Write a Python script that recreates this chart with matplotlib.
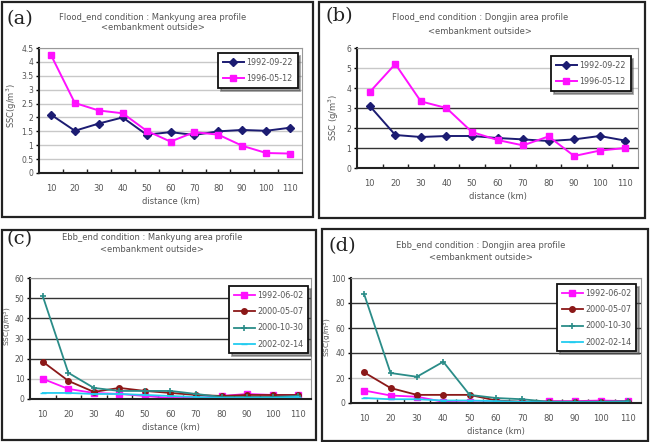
import matplotlib
matplotlib.use("Agg")
import matplotlib.pyplot as plt
from matplotlib.patches import Rectangle

W, H = 650, 442
distance = [10, 20, 30, 40, 50, 60, 70, 80, 90, 100, 110]

# (a) Flood_end, Mankyung
a_labels = ["1992-09-22", "1996-05-12"]
a_1992 = [2.1, 1.52, 1.78, 2.0, 1.38, 1.47, 1.37, 1.5, 1.55, 1.52, 1.63]
a_1996 = [4.25, 2.52, 2.25, 2.15, 1.52, 1.13, 1.47, 1.38, 0.98, 0.72, 0.7]

# (b) Flood_end, Dongjin
b_labels = ["1992-09-22", "1996-05-12"]
b_1992 = [3.1, 1.65, 1.55, 1.6, 1.6, 1.5, 1.43, 1.35, 1.43, 1.6, 1.37]
b_1996 = [3.8, 5.2, 3.33, 3.0, 1.8, 1.4, 1.13, 1.58, 0.6, 0.87, 1.0]

# (c) Ebb_end, Mankyung
c_labels = ["1992-06-02", "2000-05-07", "2000-10-30", "2002-02-14"]
c_19920602 = [10, 5, 3, 2.5, 1.5, 0.5, 0.5, 1.5, 2.5, 2, 2]
c_20000507 = [18.5, 9, 3.5, 5.5, 4, 3, 2, 1.5, 2, 2, 2]
c_20001030 = [51, 13, 5.5, 4, 4, 4, 2.5, 1, 1, 1, 1.5]
c_20020214 = [3, 3, 2.5, 2.5, 2, 1.5, 1, 0.5, 0.5, 0.5, 1]

# (d) Ebb_end, Dongjin
d_labels = ["1992-06-02", "2000-05-07", "2000-10-30", "2002-02-14"]
d_19920602 = [10, 6, 5, 1, 0.5, 0.5, 0.5, 1.5, 1.5, 2, 1.5]
d_20000507 = [24.5, 12, 6.5, 6.5, 6.5, 2, 1, 1, 1, 1, 1]
d_20001030 = [87, 24, 21, 33, 6.5, 4, 3, 1, 1, 1, 1.5]
d_20020214 = [4, 3, 3, 2, 2, 1.5, 1, 0.5, 0.5, 0.5, 0.5]

NAVY = "#1c1c72"
MAG = "#ff10ff"
DRED = "#8b1818"
TEAL = "#2a8c88"
CYAN = "#22ccf0"
TXT = "#555555"

fig = plt.figure(figsize=(W / 100, H / 100), dpi=100)
fig.patch.set_facecolor("white")


def fx(x):
    return x / W


def fy(y):
    return 1 - y / H


def box(x0, y0, x1, y1):
    r = Rectangle((fx(x0), fy(y1)), fx(x1 - x0), (y1 - y0) / H,
                  transform=fig.transFigure, fill=False, edgecolor="#222222",
                  linewidth=1.6)
    fig.add_artist(r)


def make_ax(x0, y0, x1, y1, ymax, ystep, ylabel, gridcolors, yfmt, lx, ly,
            lfs=6):
    ax = fig.add_axes([fx(x0), fy(y1), fx(x1 - x0), (y1 - y0) / H])
    ax.set_xlim(5, 115)
    ax.set_ylim(0, ymax)
    yt = [i * ystep for i in range(int(round(ymax / ystep)) + 1)]
    ax.set_yticks(yt)
    ax.set_yticklabels([yfmt(v) for v in yt])
    for v, c in zip(yt[1:], gridcolors):
        ax.axhline(v, color=c, linewidth=1.0, zorder=0.5)
    ax.set_xticks(distance)
    ax.set_xticklabels([str(d) for d in distance])
    ax.set_xticks([15 + 10 * i for i in range(10)], minor=True)
    ax.tick_params(axis="x", which="major", length=0, pad=8, labelsize=6,
                   labelcolor=TXT)
    ax.tick_params(axis="x", which="minor", length=3, direction="in",
                   width=1.0, color="#222222")
    ax.tick_params(axis="y", length=2.5, direction="out", width=1.0,
                   labelsize=5.5, labelcolor=TXT, pad=1.5)
    for s in ["left", "bottom"]:
        ax.spines[s].set_linewidth(1.5)
        ax.spines[s].set_color("#222222")
    for s in ["top", "right"]:
        ax.spines[s].set_linewidth(0.8)
        ax.spines[s].set_color("#999999")
    ax.set_xlabel("distance (km)", fontsize=6, color=TXT, labelpad=3)
    ax.set_ylabel(ylabel, fontsize=lfs, color=TXT, va="center")
    ax.yaxis.set_label_coords(fx(lx), fy(ly), transform=fig.transFigure)
    return ax


def legend(ax, x0, y0):
    lg = ax.legend(loc="upper left", bbox_to_anchor=(fx(x0), fy(y0)),
                   bbox_transform=fig.transFigure, fontsize=5.8,
                   frameon=True, fancybox=False, shadow=True,
                   borderpad=0.6, labelspacing=0.9, handlelength=2.6,
                   handletextpad=0.3, borderaxespad=0)
    lg.get_frame().set_edgecolor("#111111")
    lg.get_frame().set_linewidth(1.3)
    for t in lg.get_texts():
        t.set_color(TXT)


def titles(cx, y1, y2, line1, lab, lx, ly):
    fig.text(fx(cx), fy(y1), line1, ha="center", va="center", fontsize=6,
             color=TXT)
    fig.text(fx(cx), fy(y2), "<embankment outside>", ha="center",
             va="center", fontsize=6, color=TXT)
    fig.text(fx(lx), fy(ly), lab, ha="center", va="center", fontsize=14,
             family="DejaVu Serif", color="#222222")


fmt_a = lambda v: ("%g" % v)
LG = "#c8c8c8"
DK = "#333333"

# Panel boxes
box(2, 2, 313, 217)
box(319, 2, 645, 218)
box(2, 230, 316, 440)
box(322, 229, 648, 441)

# (a)
ax = make_ax(39, 48, 302, 173, 4.5, 0.5, "SSC(g/m$^3$)", [LG] * 9, fmt_a,
             12, 106)
ax.plot(distance, a_1992, color=NAVY, marker="D", markersize=4, lw=1.4,
        label=a_labels[0])
ax.plot(distance, a_1996, color=MAG, marker="s", markersize=4, lw=1.4,
        label=a_labels[1])
legend(ax, 218, 53)
titles(153, 17, 28, "Flood_end condition : Mankyung area profile", "(a)",
       20, 19)

# (b)
ax = make_ax(357, 48, 638, 168, 6, 1, "SSC (g/m$^3$)",
             [DK, DK, DK, LG, LG, LG], fmt_a, 334, 117)
ax.plot(distance, b_1992, color=NAVY, marker="D", markersize=4, lw=1.4,
        label=b_labels[0])
ax.plot(distance, b_1996, color=MAG, marker="s", markersize=4, lw=1.4,
        label=b_labels[1])
legend(ax, 551, 56)
titles(480, 17, 31, "Flood_end condition : Dongjin area profile", "(b)",
       339, 16)

# (c)
ax = make_ax(30, 278, 311, 399, 60, 10, "SSC(g/m$^3$)",
             [LG, DK, DK, DK, DK, "#999999"], fmt_a, 8, 326, lfs=5.3)
ax.plot(distance, c_19920602, color=MAG, marker="s", markersize=4, lw=1.3,
        label=c_labels[0])
ax.plot(distance, c_20000507, color=DRED, marker="o", markersize=4, lw=1.3,
        label=c_labels[1])
ax.plot(distance, c_20001030, color=TEAL, marker="+", markersize=5, mew=1.2,
        lw=1.3, label=c_labels[2])
ax.plot(distance, c_20020214, color=CYAN, marker="_", markersize=4, lw=1.3,
        label=c_labels[3])
legend(ax, 229, 286)
titles(152, 238, 249, "Ebb_end condition : Mankyung area profile", "(c)",
       20, 239)

# (d)
ax = make_ax(351, 278, 641, 403, 100, 20, "SSC(g/m$^3$)",
             [LG, DK, DK, DK, "#999999"], fmt_a, 328, 337, lfs=5.3)
ax.plot(distance, d_19920602, color=MAG, marker="s", markersize=4, lw=1.3,
        label=d_labels[0])
ax.plot(distance, d_20000507, color=DRED, marker="o", markersize=4, lw=1.3,
        label=d_labels[1])
ax.plot(distance, d_20001030, color=TEAL, marker="+", markersize=5, mew=1.2,
        lw=1.3, label=d_labels[2])
ax.plot(distance, d_20020214, color=CYAN, marker="_", markersize=4, lw=1.3,
        label=d_labels[3])
legend(ax, 557, 284)
titles(481, 245, 257, "Ebb_end condition : Dongjin area profile", "(d)",
       342, 246)

fig.savefig("out.png", dpi=100)
